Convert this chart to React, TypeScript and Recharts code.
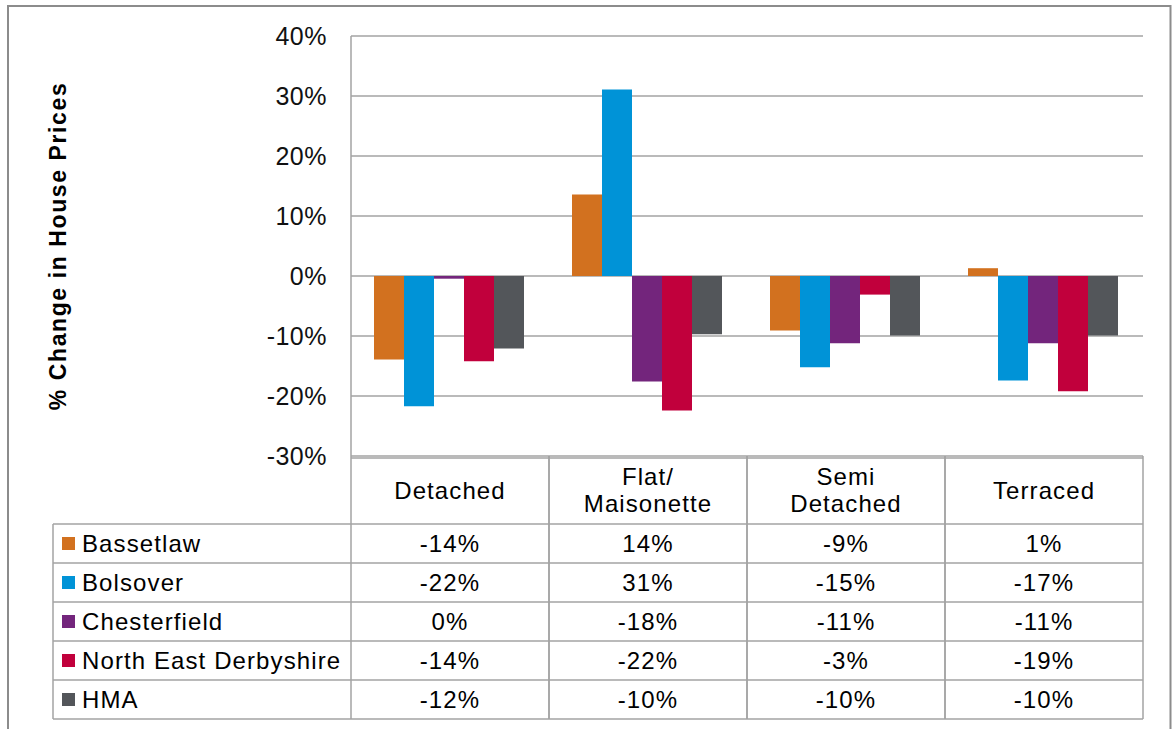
import React from 'react';
import { BarChart, Bar, XAxis, YAxis, CartesianGrid, Customized } from 'recharts';

// ---- data ----
const categories = ['Detached', 'Flat/\nMaisonette', 'Semi\nDetached', 'Terraced'];
const seriesNames = ['Bassetlaw', 'Bolsover', 'Chesterfield', 'North East Derbyshire', 'HMA'];
const bassetlaw = [-13.9, 13.6, -9.1, 1.3];
const bolsover = [-21.7, 31.1, -15.2, -17.4];
const chesterfield = [-0.45, -17.6, -11.2, -11.2];
const northEastDerbyshire = [-14.2, -22.4, -3.1, -19.2];
const hma = [-12.1, -9.7, -9.9, -9.9];
const yTicks = [-30, -20, -10, 0, 10, 20, 30, 40];

const seriesValues = [bassetlaw, bolsover, chesterfield, northEastDerbyshire, hma];
const seriesKeys = ['s0', 's1', 's2', 's3', 's4'];
const colors = ['#D2711F', '#0093D7', '#73257C', '#C1003C', '#53565A'];

const data = categories.map((c, i) => {
  const row: any = { category: c };
  seriesValues.forEach((vals, s) => {
    row[seriesKeys[s]] = vals[i];
  });
  return row;
});

// ---- layout constants ----
const W = 1173;
const H = 729;
const PLOT_LEFT = 351;
const PLOT_RIGHT = 1143;
const PLOT_TOP = 36;
const PLOT_BOTTOM = 456;
const TABLE_LEFT = 53;
const HEADER_BOTTOM = 524;
const ROW_H = 39;
const COL_W = (PLOT_RIGHT - PLOT_LEFT) / categories.length;
const LINE = '#a3a3a3';
const FONT = '"Liberation Sans", Arial, sans-serif';
const TFS = 24;
const TLS = 1.1;
const fmt = (v: number) => `${Math.round(v) === 0 ? 0 : Math.round(v)}%`;

const TableColumn = (props: any) => {
  const { x, payload } = props;
  const i = props.index ?? payload.index;
  const lines = String(payload.value).split('\n');
  const headerMid = (PLOT_BOTTOM + HEADER_BOTTOM) / 2;
  const lh = 27;
  const startY = headerMid - ((lines.length - 1) * lh) / 2;
  const left = x - COL_W / 2;
  const right = x + COL_W / 2;
  return (
    <g>
      {lines.map((ln, k) => (
        <text key={k} x={x} y={startY + k * lh + 8.5} textAnchor="middle" fontSize={TFS}
          fontFamily={FONT} letterSpacing={TLS} fill="#000">{ln}</text>
      ))}
      {seriesValues.map((vals, s) => (
        <text key={s} x={x} y={HEADER_BOTTOM + ROW_H * s + ROW_H / 2 + 8.5} textAnchor="middle"
          fontSize={TFS} fontFamily={FONT} letterSpacing={TLS} fill="#000">{fmt(vals[i])}</text>
      ))}
      <line x1={right} y1={PLOT_BOTTOM} x2={right} y2={HEADER_BOTTOM + ROW_H * 5} stroke={LINE} strokeWidth={1.5} />
      <line x1={left} y1={PLOT_BOTTOM} x2={left} y2={HEADER_BOTTOM + ROW_H * 5} stroke={LINE} strokeWidth={1.5} />
    </g>
  );
};

const Decorations = () => (
  <g>
    {/* outer frame */}
    <path d={`M8 ${H} L8 6 L1170.5 6 L1170.5 ${H}`} fill="none" stroke="#8c8c8c" strokeWidth={2} />
    {/* table top line */}
    <line x1={PLOT_LEFT} y1={458} x2={PLOT_RIGHT} y2={458} stroke={LINE} strokeWidth={1.5} />
    {/* row lines */}
    {[0, 1, 2, 3, 4, 5].map((r) => (
      <line key={r} x1={TABLE_LEFT} y1={HEADER_BOTTOM + r * ROW_H} x2={PLOT_RIGHT}
        y2={HEADER_BOTTOM + r * ROW_H} stroke={LINE} strokeWidth={1.5} />
    ))}
    <line x1={TABLE_LEFT} y1={HEADER_BOTTOM} x2={TABLE_LEFT} y2={HEADER_BOTTOM + 5 * ROW_H} stroke={LINE} strokeWidth={1.5} />
    {/* legend keys */}
    {seriesNames.map((n, s) => {
      const cy = HEADER_BOTTOM + ROW_H * s + ROW_H / 2;
      return (
        <g key={n}>
          <rect x={62} y={cy - 6.5} width={13} height={13} fill={colors[s]} />
          <text x={82} y={cy + 8.5} fontSize={TFS} fontFamily={FONT} letterSpacing={TLS} fill="#000">{n}</text>
        </g>
      );
    })}
    {/* y axis title */}
    <text transform="translate(58,246) rotate(-90)" textAnchor="middle" dominantBaseline="central"
      fontSize={23} fontWeight="bold" fontFamily={FONT} letterSpacing={1.6} fill="#000">
      % Change in House Prices
    </text>
  </g>
);

export default function App() {
  return (
    <div style={{ position: 'absolute', left: 0, top: 0, width: W, height: H, background: '#fff' }}>
      <BarChart width={W} height={H} data={data}
        margin={{ top: PLOT_TOP, right: W - PLOT_RIGHT, bottom: 0, left: PLOT_LEFT - 80 }}
        barCategoryGap={23} barGap={0}>
        <CartesianGrid vertical={false} stroke={LINE} strokeWidth={1.5} />
        <XAxis dataKey="category" height={H - PLOT_BOTTOM} axisLine={false} tickLine={false}
          interval={0} tick={<TableColumn />} />
        <YAxis width={80} domain={[-30, 40]} ticks={yTicks} tickFormatter={(v: number) => `${v}%`}
          axisLine={{ stroke: LINE, strokeWidth: 1.5 }} tickLine={false} tickSize={0} tickMargin={24}
          tick={{ fontSize: 25, fontFamily: FONT, fill: '#111', letterSpacing: 0.5 }} />
        {seriesKeys.map((k, s) => (
          <Bar key={k} dataKey={k} name={seriesNames[s]} fill={colors[s]} isAnimationActive={false} />
        ))}
        <Customized component={Decorations} />
      </BarChart>
    </div>
  );
}
